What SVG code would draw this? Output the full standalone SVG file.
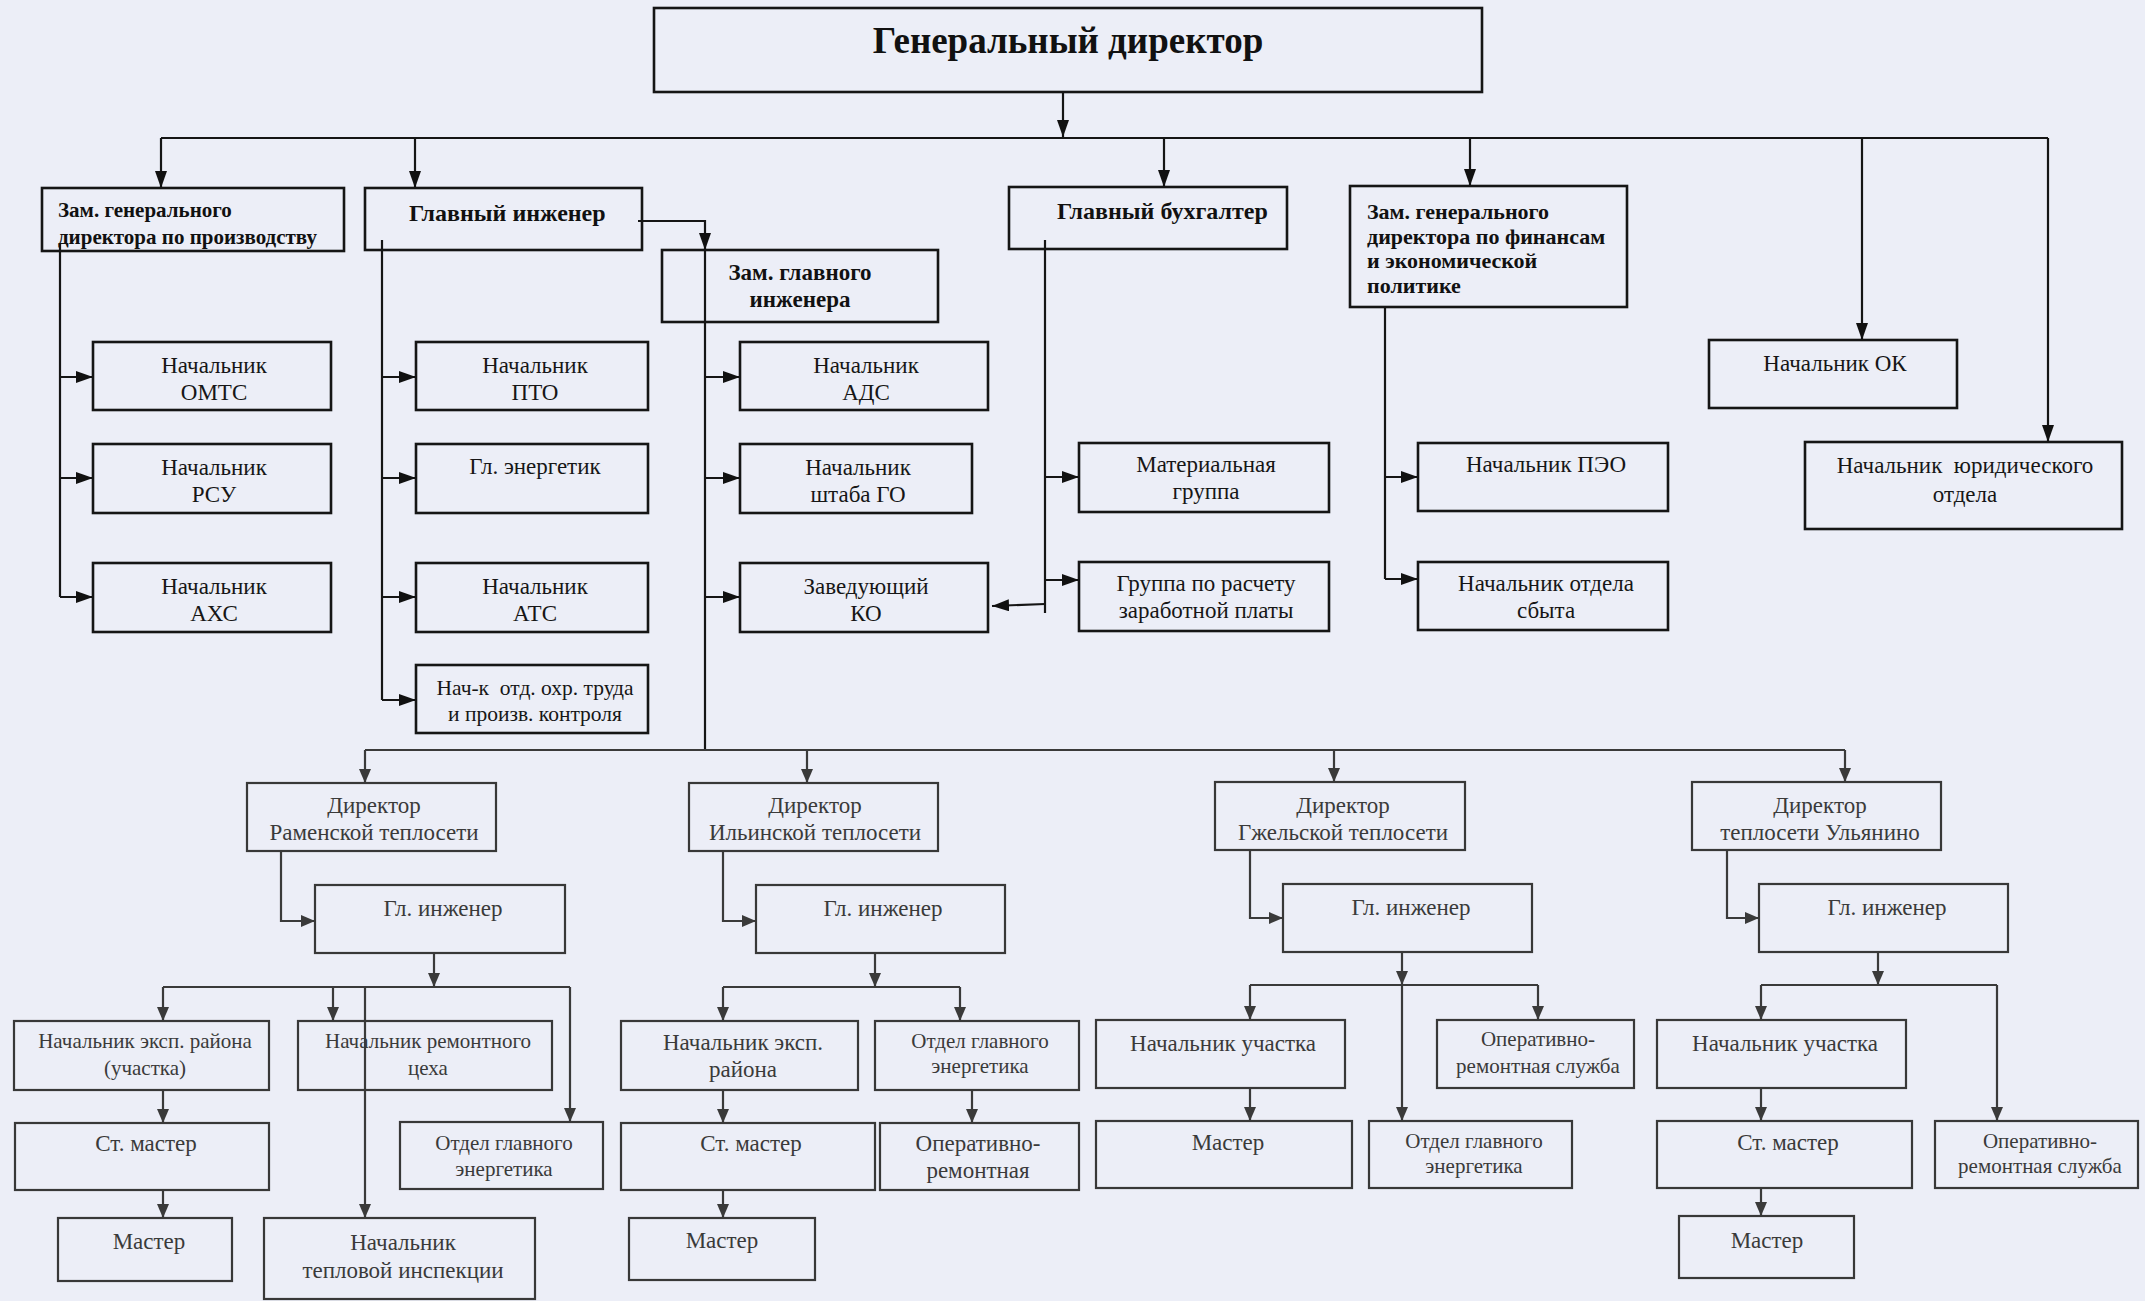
<svg xmlns="http://www.w3.org/2000/svg" width="2145" height="1301" viewBox="0 0 2145 1301">
<style>
.bg{fill:#eceef7}
.b{fill:none;stroke:#151515;stroke-width:2.6}
.g{fill:none;stroke:#383838;stroke-width:2.2}
.t{font-family:"Liberation Serif","Times New Roman",serif;font-size:23px;fill:#161616;text-anchor:middle}
.tb{font-family:"Liberation Serif","Times New Roman",serif;font-size:22px;font-weight:bold;fill:#111}
.tg{font-family:"Liberation Serif","Times New Roman",serif;font-size:23px;fill:#3a3a3a;text-anchor:middle}
.sm{font-size:21px}
.c{fill:none;stroke:#151515;stroke-width:2.2}
.cg{fill:none;stroke:#3a3a3a;stroke-width:2.2}
.a{marker-end:url(#ah)}
.ag{marker-end:url(#ahg)}
</style>
<defs>
<marker id="ah" viewBox="0 0 17 12" refX="17" refY="6" markerWidth="17" markerHeight="12" markerUnits="userSpaceOnUse" orient="auto"><path d="M0,0 L17,6 L0,12 z" fill="#111"/></marker>
<marker id="ahg" viewBox="0 0 14 12" refX="14" refY="6" markerWidth="14" markerHeight="12" markerUnits="userSpaceOnUse" orient="auto"><path d="M0,0 L14,6 L0,12 z" fill="#3a3a3a"/></marker>
</defs>
<rect class="bg" x="0" y="0" width="2145" height="1301"/>

<g id="connectors">
<path class="c a" d="M1063,92 V137"/>
<path class="c" d="M161,138 H2048"/>
<path class="c a" d="M161,138 V188"/>
<path class="c a" d="M415,138 V188"/>
<path class="c a" d="M1164,138 V187"/>
<path class="c a" d="M1470,138 V186"/>
<path class="c a" d="M1862,138 V340"/>
<path class="c a" d="M2048,138 V442"/>
<path class="c a" d="M638,221 H705 V250"/>
<path class="c" d="M705,250 V750"/>
<path class="c" d="M60,243 V597"/>
<path class="c a" d="M60,377 H93"/>
<path class="c a" d="M60,478 H93"/>
<path class="c a" d="M60,597 H93"/>
<path class="c" d="M382,240 V700"/>
<path class="c a" d="M382,377 H416"/>
<path class="c a" d="M382,478 H416"/>
<path class="c a" d="M382,597 H416"/>
<path class="c a" d="M382,700 H416"/>
<path class="c a" d="M705,377 H740"/>
<path class="c a" d="M705,478 H740"/>
<path class="c a" d="M705,597 H740"/>
<path class="c" d="M1045,240 V613"/>
<path class="c a" d="M1045,477 H1079"/>
<path class="c a" d="M1045,580 H1079"/>
<path class="c a" d="M1045,604 L992,606"/>
<path class="c" d="M1385,307 V579"/>
<path class="c a" d="M1385,477 H1418"/>
<path class="c a" d="M1385,579 H1418"/>

<path class="cg" d="M365,750 H1845"/>
<path class="cg ag" d="M365,750 V783"/>
<path class="cg ag" d="M807,750 V783"/>
<path class="cg ag" d="M1334,750 V782"/>
<path class="cg ag" d="M1845,750 V782"/>

<path class="cg ag" d="M281,851 V921 H315"/>
<path class="cg ag" d="M434,953 V987"/>
<path class="cg" d="M163,987 H570"/>
<path class="cg ag" d="M163,987 V1021"/>
<path class="cg ag" d="M333,987 V1021"/>
<path class="cg ag" d="M570,987 V1122"/>
<path class="cg ag" d="M365,987 V1218"/>
<path class="cg ag" d="M163,1090 V1123"/>
<path class="cg ag" d="M163,1190 V1218"/>

<path class="cg ag" d="M723,851 V921 H756"/>
<path class="cg ag" d="M875,953 V987"/>
<path class="cg" d="M723,987 H960"/>
<path class="cg ag" d="M723,987 V1021"/>
<path class="cg ag" d="M960,987 V1021"/>
<path class="cg ag" d="M723,1090 V1123"/>
<path class="cg ag" d="M723,1190 V1218"/>
<path class="cg ag" d="M972,1090 V1123"/>

<path class="cg ag" d="M1250,850 V918 H1283"/>
<path class="cg ag" d="M1402,952 V985"/>
<path class="cg ag" d="M1402,985 V1121"/>
<path class="cg" d="M1250,985 H1538"/>
<path class="cg ag" d="M1250,985 V1020"/>
<path class="cg ag" d="M1538,985 V1020"/>
<path class="cg ag" d="M1250,1088 V1121"/>

<path class="cg ag" d="M1727,850 V918 H1759"/>
<path class="cg ag" d="M1878,952 V985"/>
<path class="cg" d="M1761,985 H1997"/>
<path class="cg ag" d="M1761,985 V1020"/>
<path class="cg ag" d="M1997,985 V1121"/>
<path class="cg ag" d="M1761,1088 V1121"/>
<path class="cg ag" d="M1761,1188 V1216"/>
</g>

<g id="n_gd"><rect class="b" x="654" y="8" width="828" height="84"/><text class="t" x="1068" y="53" style="font-size:37px;font-weight:bold;fill:#111">Генеральный директор</text></g>
<g id="n_zam_prod"><rect class="b" x="42" y="188" width="302" height="63"/><text class="tb" x="58" y="217" style="font-size:21px">Зам. генерального</text><text class="tb" x="58" y="244" style="font-size:21px">директора по производству</text></g>
<g id="n_gl_inzh"><rect class="b" x="365" y="188" width="277" height="62"/><text class="tb" x="409" y="221" style="font-size:24px">Главный инженер</text></g>
<g id="n_zam_gl_inzh"><rect class="b" x="662" y="250" width="276" height="72"/><text class="tb" x="800" y="280" text-anchor="middle" style="font-size:23px">Зам. главного</text><text class="tb" x="800" y="307" text-anchor="middle" style="font-size:23px">инженера</text></g>
<g id="n_gl_buh"><rect class="b" x="1009" y="187" width="278" height="62"/><text class="tb" x="1057" y="219" style="font-size:24px">Главный бухгалтер</text></g>
<g id="n_zam_fin"><rect class="b" x="1350" y="186" width="277" height="121"/><text class="tb" x="1367" y="219">Зам. генерального</text><text class="tb" x="1367" y="244">директора по финансам</text><text class="tb" x="1367" y="268">и экономической</text><text class="tb" x="1367" y="293">политике</text></g>
<g id="n_ok"><rect class="b" x="1709" y="340" width="248" height="68"/><text class="t" x="1835" y="371">Начальник ОК</text></g>
<g id="n_yur"><rect class="b" x="1805" y="442" width="317" height="87"/><text class="t" x="1965" y="473" xml:space="preserve">Начальник  юридического</text><text class="t" x="1965" y="502">отдела</text></g>

<g id="n_omts"><rect class="b" x="93" y="342" width="238" height="68"/><text class="t" x="214" y="373">Начальник</text><text class="t" x="214" y="400">ОМТС</text></g>
<g id="n_rsu"><rect class="b" x="93" y="444" width="238" height="69"/><text class="t" x="214" y="475">Начальник</text><text class="t" x="214" y="502">РСУ</text></g>
<g id="n_axs"><rect class="b" x="93" y="563" width="238" height="69"/><text class="t" x="214" y="594">Начальник</text><text class="t" x="214" y="621">АХС</text></g>

<g id="n_pto"><rect class="b" x="416" y="342" width="232" height="68"/><text class="t" x="535" y="373">Начальник</text><text class="t" x="535" y="400">ПТО</text></g>
<g id="n_energ"><rect class="b" x="416" y="444" width="232" height="69"/><text class="t" x="535" y="474">Гл. энергетик</text></g>
<g id="n_ats"><rect class="b" x="416" y="563" width="232" height="69"/><text class="t" x="535" y="594">Начальник</text><text class="t" x="535" y="621">АТС</text></g>
<g id="n_ohr"><rect class="b" x="416" y="665" width="232" height="68"/><text class="t" x="535" y="695" xml:space="preserve" style="font-size:21.5px">Нач-к  отд. охр. труда</text><text class="t" x="535" y="721" style="font-size:21.5px">и произв. контроля</text></g>

<g id="n_ads"><rect class="b" x="740" y="342" width="248" height="68"/><text class="t" x="866" y="373">Начальник</text><text class="t" x="866" y="400">АДС</text></g>
<g id="n_go"><rect class="b" x="740" y="444" width="232" height="69"/><text class="t" x="858" y="475">Начальник</text><text class="t" x="858" y="502">штаба ГО</text></g>
<g id="n_ko"><rect class="b" x="740" y="563" width="248" height="69"/><text class="t" x="866" y="594">Заведующий</text><text class="t" x="866" y="621">КО</text></g>

<g id="n_mat"><rect class="b" x="1079" y="443" width="250" height="69"/><text class="t" x="1206" y="472">Материальная</text><text class="t" x="1206" y="499">группа</text></g>
<g id="n_zp"><rect class="b" x="1079" y="562" width="250" height="69"/><text class="t" x="1206" y="591">Группа по расчету</text><text class="t" x="1206" y="618">заработной платы</text></g>
<g id="n_peo"><rect class="b" x="1418" y="443" width="250" height="68"/><text class="t" x="1546" y="472">Начальник ПЭО</text></g>
<g id="n_sbyt"><rect class="b" x="1418" y="562" width="250" height="68"/><text class="t" x="1546" y="591">Начальник отдела</text><text class="t" x="1546" y="618">сбыта</text></g>

<g id="n_dir_ram"><rect class="g" x="247" y="783" width="249" height="68"/><text class="tg" x="374" y="813">Директор</text><text class="tg" x="374" y="840">Раменской теплосети</text></g>
<g id="n_dir_il"><rect class="g" x="689" y="783" width="249" height="68"/><text class="tg" x="815" y="813">Директор</text><text class="tg" x="815" y="840">Ильинской теплосети</text></g>
<g id="n_dir_gzh"><rect class="g" x="1215" y="782" width="250" height="68"/><text class="tg" x="1343" y="813">Директор</text><text class="tg" x="1343" y="840">Гжельской теплосети</text></g>
<g id="n_dir_ul"><rect class="g" x="1692" y="782" width="249" height="68"/><text class="tg" x="1820" y="813">Директор</text><text class="tg" x="1820" y="840">теплосети Ульянино</text></g>

<g id="n_gi_ram"><rect class="g" x="315" y="885" width="250" height="68"/><text class="tg" x="443" y="916">Гл. инженер</text></g>
<g id="n_gi_il"><rect class="g" x="756" y="885" width="249" height="68"/><text class="tg" x="883" y="916">Гл. инженер</text></g>
<g id="n_gi_gzh"><rect class="g" x="1283" y="884" width="249" height="68"/><text class="tg" x="1411" y="915">Гл. инженер</text></g>
<g id="n_gi_ul"><rect class="g" x="1759" y="884" width="249" height="68"/><text class="tg" x="1887" y="915">Гл. инженер</text></g>

<g id="n_r_eksp"><rect class="g" x="14" y="1021" width="255" height="69"/><text class="tg sm" x="145" y="1048">Начальник эксп. района</text><text class="tg sm" x="145" y="1075">(участка)</text></g>
<g id="n_r_rem"><rect class="g" x="298" y="1021" width="254" height="69"/><text class="tg sm" x="428" y="1048">Начальник ремонтного</text><text class="tg sm" x="428" y="1075">цеха</text></g>
<g id="n_r_st"><rect class="g" x="15" y="1123" width="254" height="67"/><text class="tg" x="146" y="1151">Ст. мастер</text></g>
<g id="n_r_oge"><rect class="g" x="400" y="1122" width="203" height="67"/><text class="tg sm" x="504" y="1150">Отдел главного</text><text class="tg sm" x="504" y="1176">энергетика</text></g>
<g id="n_r_m"><rect class="g" x="58" y="1218" width="174" height="63"/><text class="tg" x="149" y="1249">Мастер</text></g>
<g id="n_r_ti"><rect class="g" x="264" y="1218" width="271" height="81"/><text class="tg" x="403" y="1250">Начальник</text><text class="tg" x="403" y="1278">тепловой инспекции</text></g>

<g id="n_i_eksp"><rect class="g" x="621" y="1021" width="237" height="69"/><text class="tg" x="743" y="1050">Начальник эксп.</text><text class="tg" x="743" y="1077">района</text></g>
<g id="n_i_oge"><rect class="g" x="875" y="1021" width="204" height="69"/><text class="tg sm" x="980" y="1048">Отдел главного</text><text class="tg sm" x="980" y="1073">энергетика</text></g>
<g id="n_i_st"><rect class="g" x="621" y="1123" width="254" height="67"/><text class="tg" x="751" y="1151">Ст. мастер</text></g>
<g id="n_i_or"><rect class="g" x="880" y="1123" width="199" height="67"/><text class="tg" x="978" y="1151">Оперативно-</text><text class="tg" x="978" y="1178">ремонтная</text></g>
<g id="n_i_m"><rect class="g" x="629" y="1218" width="186" height="62"/><text class="tg" x="722" y="1248">Мастер</text></g>

<g id="n_g_uch"><rect class="g" x="1096" y="1020" width="249" height="68"/><text class="tg" x="1223" y="1051">Начальник участка</text></g>
<g id="n_g_or"><rect class="g" x="1437" y="1020" width="197" height="68"/><text class="tg sm" x="1538" y="1046">Оперативно-</text><text class="tg sm" x="1538" y="1073">ремонтная служба</text></g>
<g id="n_g_m"><rect class="g" x="1096" y="1121" width="256" height="67"/><text class="tg" x="1228" y="1150">Мастер</text></g>
<g id="n_g_oge"><rect class="g" x="1369" y="1121" width="203" height="67"/><text class="tg sm" x="1474" y="1148">Отдел главного</text><text class="tg sm" x="1474" y="1173">энергетика</text></g>

<g id="n_u_uch"><rect class="g" x="1657" y="1020" width="249" height="68"/><text class="tg" x="1785" y="1051">Начальник участка</text></g>
<g id="n_u_st"><rect class="g" x="1657" y="1121" width="255" height="67"/><text class="tg" x="1788" y="1150">Ст. мастер</text></g>
<g id="n_u_or"><rect class="g" x="1935" y="1121" width="203" height="67"/><text class="tg sm" x="2040" y="1148">Оперативно-</text><text class="tg sm" x="2040" y="1173">ремонтная служба</text></g>
<g id="n_u_m"><rect class="g" x="1679" y="1216" width="175" height="62"/><text class="tg" x="1767" y="1248">Мастер</text></g>
</svg>
